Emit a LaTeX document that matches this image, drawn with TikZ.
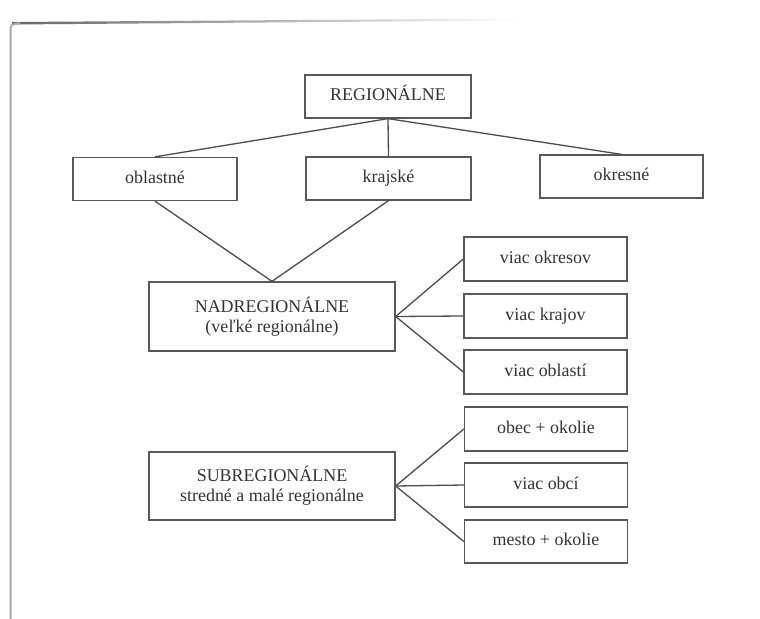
\documentclass[tikz,border=0pt]{standalone}
\usepackage{fontspec}
\setmainfont{Liberation Serif}
\begin{document}
\begin{tikzpicture}[x=1bp,y=-1bp,
  box/.style={draw=black!65, line width=1.3bp, inner sep=0pt, align=center,
    text=black!80, font=\fontsize{18}{20}\selectfont},
  one/.style={box, text height=12.5bp, text depth=4bp},
  conn/.style={draw=black!70, line width=1.3bp}]
\useasboundingbox[fill=white] (0,0) rectangle (760,619);
% scanned page edges
\shade[left color=black!60, right color=white] (12,22) -- (520,18.5) -- (520,20.5) -- (12,24.5) -- cycle;
\draw[black!35, line width=2bp] (10.5,619) -- (10.5,30) .. controls (10.5,25) and (12,23.5) .. (20,23.2);
% nodes
\node[one, minimum width=166bp, minimum height=43bp] (reg) at (388,96.5) {REGIONÁLNE};
\node[one, minimum width=164bp, minimum height=43bp] (obl) at (155,179) {oblastné};
\node[one, minimum width=165bp, minimum height=43bp] (kraj) at (388.5,178.5) {krajské};
\node[one, minimum width=163bp, minimum height=43bp] (okr) at (621.5,176.5) {okresné};
\node[box, minimum width=246bp, minimum height=69bp] (nad) at (272,316.5) {NADREGIONÁLNE\\(veľké regionálne)};
\node[one, minimum width=163bp, minimum height=44bp] (vok) at (545.5,259) {viac okresov};
\node[one, minimum width=163bp, minimum height=44bp] (vkr) at (545.5,316) {viac krajov};
\node[one, minimum width=163bp, minimum height=44bp] (vobl) at (545.5,372) {viac oblastí};
\node[box, minimum width=246bp, minimum height=68bp] (sub) at (272,486) {SUBREGIONÁLNE\\stredné a malé regionálne};
\node[one, minimum width=163bp, minimum height=44bp] (obec) at (546,429) {obec + okolie};
\node[one, minimum width=163bp, minimum height=44bp] (vobc) at (546,485) {viac obcí};
\node[one, minimum width=163bp, minimum height=43bp] (mesto) at (546,541.5) {mesto + okolie};
% connectors
\draw[conn] (reg.south) -- (obl.north);
\draw[conn] (reg.south) -- (kraj.north);
\draw[conn] (reg.south) -- (okr.north);
\draw[conn] (obl.south) -- (nad.north);
\draw[conn] (kraj.south) -- (nad.north);
\draw[conn] (nad.east) -- (vok.west);
\draw[conn] (nad.east) -- (vkr.west);
\draw[conn] (nad.east) -- (vobl.west);
\draw[conn] (sub.east) -- (obec.west);
\draw[conn] (sub.east) -- (vobc.west);
\draw[conn] (sub.east) -- (mesto.west);
\end{tikzpicture}
\end{document}
